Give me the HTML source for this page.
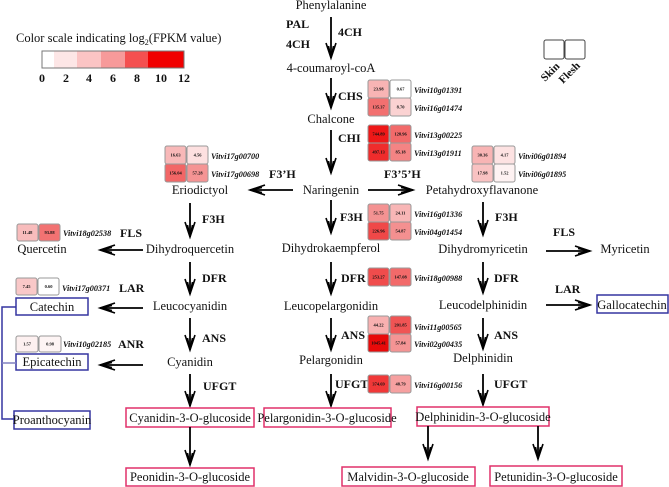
<!DOCTYPE html>
<html><head><meta charset="utf-8">
<style>
html,body{margin:0;padding:0;background:#fff;}
svg{display:block;}
text{font-family:"Liberation Serif",serif;fill:#111;}
.n{font-size:12.5px;text-anchor:middle;}
.e{font-size:12px;font-weight:bold;}
.g{font-size:8.2px;font-style:italic;font-weight:bold;}
.v{font-size:4.5px;text-anchor:middle;font-weight:bold;}
.c{stroke:#999;stroke-width:1;}
.a{stroke:#000;stroke-width:1.8;fill:none;}
.pb{fill:#fff;stroke:#e0306a;stroke-width:1.5;}
.bb{fill:#fff;stroke:#3535a0;stroke-width:1.5;}
</style></head><body>
<svg width="669" height="487" viewBox="0 0 669 487" xmlns="http://www.w3.org/2000/svg">
<defs>
<g id="hd"><path d="M-5,-15 L0,0 L5,-15 M-2.5,-12 L0,0 L2.5,-12" stroke="#000" stroke-width="1.6" fill="none"/></g>
</defs>

<!-- Legend -->
<text x="16" y="42" style="font-size:12.5px">Color scale indicating log<tspan dy="3" font-size="8">2</tspan><tspan dy="-3">(FPKM value)</tspan></text>
<rect x="42" y="51" width="12" height="17" fill="#fff"/>
<rect x="54" y="51" width="23" height="17" fill="#fde6e6"/>
<rect x="77" y="51" width="24" height="17" fill="#fbc4c4"/>
<rect x="101" y="51" width="24" height="17" fill="#f79a9a"/>
<rect x="125" y="51" width="23" height="17" fill="#f45050"/>
<rect x="148" y="51" width="36" height="17" fill="#f00000"/>
<rect x="42" y="51" width="142" height="17" fill="none" stroke="#777"/>
<g style="font-size:12px;font-weight:bold;text-anchor:middle">
<text x="42" y="82">0</text><text x="66" y="82">2</text><text x="89" y="82">4</text><text x="113" y="82">6</text><text x="137" y="82">8</text><text x="161" y="82">10</text><text x="184" y="82">12</text></g>

<!-- Skin/Flesh -->
<rect x="544" y="40" width="20" height="19" rx="2" fill="#fff" stroke="#444"/>
<rect x="565" y="40" width="20" height="19" rx="2" fill="#fff" stroke="#444"/>
<text transform="translate(545,82) rotate(-45)" style="font-size:11px;font-weight:bold">Skin</text>
<text transform="translate(563,84) rotate(-45)" style="font-size:11px;font-weight:bold">Flesh</text>

<!-- Main column -->
<text class="n" x="331" y="9">Phenylalanine</text>
<line class="a" x1="331" y1="17" x2="331" y2="58"/><use href="#hd" x="331" y="58"/>
<text class="e" x="286" y="28">PAL</text><text class="e" x="286" y="48">4CH</text><text class="e" x="338" y="36">4CH</text>
<text class="n" x="331" y="72">4-coumaroyl-coA</text>
<line class="a" x1="331" y1="78" x2="331" y2="108"/><use href="#hd" x="331" y="108"/>
<text class="e" x="338" y="100">CHS</text>
<text class="n" x="331" y="123">Chalcone</text>
<line class="a" x1="331" y1="130" x2="331" y2="173"/><use href="#hd" x="331" y="173"/>
<text class="e" x="338" y="142">CHI</text>
<text class="n" x="331" y="194">Naringenin</text>

<!-- CHS heatmap -->
<rect class="c" x="368" y="80" width="21" height="18" rx="2" fill="#f8b4b4"/><text class="v" x="378.5" y="90.5">23.98</text>
<rect class="c" x="390" y="80" width="21" height="18" rx="2" fill="#fff"/><text class="v" x="400.5" y="90.5">0.67</text>
<rect class="c" x="368" y="98" width="21" height="18" rx="2" fill="#f27070"/><text class="v" x="378.5" y="108.5">135.37</text>
<rect class="c" x="390" y="98" width="21" height="18" rx="2" fill="#fbd2d2"/><text class="v" x="400.5" y="108.5">8.70</text>
<text class="g" x="414" y="93">Vitvi10g01391</text><text class="g" x="414" y="111">Vitvi16g01474</text>
<!-- CHI heatmap -->
<rect class="c" x="368" y="125" width="21" height="18" rx="2" fill="#ee1818"/><text class="v" x="378.5" y="135.5">744.89</text>
<rect class="c" x="390" y="125" width="21" height="18" rx="2" fill="#f26a6a"/><text class="v" x="400.5" y="135.5">128.96</text>
<rect class="c" x="368" y="143" width="21" height="18" rx="2" fill="#ef2c2c"/><text class="v" x="378.5" y="153.5">497.13</text>
<rect class="c" x="390" y="143" width="21" height="18" rx="2" fill="#f48484"/><text class="v" x="400.5" y="153.5">85.18</text>
<text class="g" x="414" y="138">Vitvi13g00225</text><text class="g" x="414" y="156">Vitvi13g01911</text>

<!-- Eriodictyol branch -->
<line class="a" x1="293" y1="190" x2="250" y2="190"/><use href="#hd" transform="translate(250,190) rotate(90)"/>
<text class="e" x="269" y="178">F3’H</text>
<text class="n" x="200" y="194">Eriodictyol</text>
<rect class="c" x="165" y="146" width="21" height="18" rx="2" fill="#f8b8b8"/><text class="v" x="175.5" y="156.5">16.63</text>
<rect class="c" x="187" y="146" width="21" height="18" rx="2" fill="#fde0e0"/><text class="v" x="197.5" y="156.5">4.56</text>
<rect class="c" x="165" y="164" width="21" height="18" rx="2" fill="#f26666"/><text class="v" x="175.5" y="174.5">156.04</text>
<rect class="c" x="187" y="164" width="21" height="18" rx="2" fill="#f59494"/><text class="v" x="197.5" y="174.5">57.28</text>
<text class="g" x="211" y="159">Vitvi17g00700</text><text class="g" x="211" y="177">Vitvi17g00698</text>

<!-- Petahydroxyflavanone branch -->
<line class="a" x1="368" y1="190" x2="413" y2="190"/><use href="#hd" transform="translate(413,190) rotate(-90)"/>
<text class="e" x="384" y="178">F3’5’H</text>
<text class="n" x="482" y="194">Petahydroxyflavanone</text>
<rect class="c" x="472" y="146" width="21" height="18" rx="2" fill="#f8b4b4"/><text class="v" x="482.5" y="156.5">30.36</text>
<rect class="c" x="494" y="146" width="21" height="18" rx="2" fill="#fde2e2"/><text class="v" x="504.5" y="156.5">4.17</text>
<rect class="c" x="472" y="164" width="21" height="18" rx="2" fill="#f9c2c2"/><text class="v" x="482.5" y="174.5">17.98</text>
<rect class="c" x="494" y="164" width="21" height="18" rx="2" fill="#fef2f2"/><text class="v" x="504.5" y="174.5">1.52</text>
<text class="g" x="518" y="159">Vitvi06g01894</text><text class="g" x="518" y="177">Vitvi06g01895</text>

<!-- F3H row -->
<line class="a" x1="331" y1="200" x2="331" y2="233"/><use href="#hd" x="331" y="233"/>
<text class="e" x="340" y="221">F3H</text>
<rect class="c" x="368" y="204" width="21" height="18" rx="2" fill="#f49292"/><text class="v" x="378.5" y="214.5">51.75</text>
<rect class="c" x="390" y="204" width="21" height="18" rx="2" fill="#f8b6b6"/><text class="v" x="400.5" y="214.5">24.11</text>
<rect class="c" x="368" y="222" width="21" height="18" rx="2" fill="#f04848"/><text class="v" x="378.5" y="232.5">226.96</text>
<rect class="c" x="390" y="222" width="21" height="18" rx="2" fill="#f49090"/><text class="v" x="400.5" y="232.5">54.87</text>
<text class="g" x="414" y="217">Vitvi16g01336</text><text class="g" x="414" y="235">Vitvi04g01454</text>
<text class="n" x="331" y="252">Dihydrokaempferol</text>

<line class="a" x1="190" y1="203" x2="190" y2="237"/><use href="#hd" x="190" y="237"/>
<text class="e" x="202" y="223">F3H</text>
<text class="n" x="190" y="253">Dihydroquercetin</text>
<line class="a" x1="143" y1="250" x2="100" y2="250"/><use href="#hd" transform="translate(100,250) rotate(90)"/>
<text class="n" x="42" y="253">Quercetin</text>
<rect class="c" x="17" y="224" width="21" height="17" rx="2" fill="#f8bcbc"/><text class="v" x="27.5" y="234">11.48</text>
<rect class="c" x="39" y="224" width="21" height="17" rx="2" fill="#f27272"/><text class="v" x="49.5" y="234">93.88</text>
<text class="g" x="63" y="236">Vitvi18g02538</text><text class="e" x="120" y="237">FLS</text>

<line class="a" x1="483" y1="202" x2="483" y2="235"/><use href="#hd" x="483" y="235"/>
<text class="e" x="495" y="221">F3H</text>
<text class="n" x="483" y="253">Dihydromyricetin</text>
<line class="a" x1="546" y1="251" x2="590" y2="251"/><use href="#hd" transform="translate(590,251) rotate(-90)"/>
<text class="e" x="553" y="236">FLS</text>
<text class="n" x="625" y="253">Myricetin</text>

<!-- DFR row -->
<line class="a" x1="190" y1="262" x2="190" y2="294"/><use href="#hd" x="190" y="294"/>
<text class="e" x="202" y="282">DFR</text>
<line class="a" x1="331" y1="262" x2="331" y2="294"/><use href="#hd" x="331" y="294"/>
<text class="e" x="341" y="282">DFR</text>
<rect class="c" x="368" y="268" width="21" height="18" rx="2" fill="#f04c4c"/><text class="v" x="378.5" y="278.5">253.27</text>
<rect class="c" x="390" y="268" width="21" height="18" rx="2" fill="#f26a6a"/><text class="v" x="400.5" y="278.5">147.08</text>
<text class="g" x="414" y="281">Vitvi18g00988</text>
<line class="a" x1="483" y1="262" x2="483" y2="293"/><use href="#hd" x="483" y="293"/>
<text class="e" x="494" y="282">DFR</text>

<text class="n" x="190" y="310">Leucocyanidin</text>
<text class="n" x="331" y="310">Leucopelargonidin</text>
<text class="n" x="483" y="309">Leucodelphinidin</text>

<rect class="c" x="16" y="278" width="21" height="17" rx="2" fill="#f9c8c8"/><text class="v" x="26.5" y="288">7.45</text>
<rect class="c" x="38" y="278" width="21" height="17" rx="2" fill="#fff"/><text class="v" x="48.5" y="288">0.60</text>
<text class="g" x="62" y="291">Vitvi17g00371</text><text class="e" x="119" y="292">LAR</text>
<line class="a" x1="143" y1="308" x2="100" y2="308"/><use href="#hd" transform="translate(100,308) rotate(90)"/>
<rect class="bb" x="16" y="298" width="72" height="17"/><text class="n" x="52" y="311">Catechin</text>

<text class="e" x="555" y="293">LAR</text>
<line class="a" x1="546" y1="305" x2="590" y2="305"/><use href="#hd" transform="translate(590,305) rotate(-90)"/>
<rect class="bb" x="597" y="295" width="71" height="18"/><text class="n" x="632" y="309">Gallocatechin</text>

<!-- ANS row -->
<line class="a" x1="190" y1="318" x2="190" y2="350"/><use href="#hd" x="190" y="350"/>
<text class="e" x="202" y="342">ANS</text>
<line class="a" x1="331" y1="318" x2="331" y2="350"/><use href="#hd" x="331" y="350"/>
<text class="e" x="341" y="339">ANS</text>
<rect class="c" x="368" y="316" width="21" height="18" rx="2" fill="#f8b0b0"/><text class="v" x="378.5" y="326.5">44.22</text>
<rect class="c" x="390" y="316" width="21" height="18" rx="2" fill="#f05454"/><text class="v" x="400.5" y="326.5">201.85</text>
<rect class="c" x="368" y="334" width="21" height="18" rx="2" fill="#e80a0a"/><text class="v" x="378.5" y="344.5">1045.41</text>
<rect class="c" x="390" y="334" width="21" height="18" rx="2" fill="#f49494"/><text class="v" x="400.5" y="344.5">57.84</text>
<text class="g" x="414" y="330">Vitvi11g00565</text><text class="g" x="414" y="347">Vitvi02g00435</text>
<line class="a" x1="483" y1="318" x2="483" y2="349"/><use href="#hd" x="483" y="349"/>
<text class="e" x="494" y="339">ANS</text>

<text class="n" x="190" y="366">Cyanidin</text>
<text class="n" x="331" y="364">Pelargonidin</text>
<text class="n" x="483" y="362">Delphinidin</text>

<rect class="c" x="16" y="336" width="22" height="16" rx="2" fill="#fdf0f0"/><text class="v" x="27" y="345.5">1.57</text>
<rect class="c" x="39" y="336" width="22" height="16" rx="2" fill="#fdf4f4"/><text class="v" x="50" y="345.5">0.98</text>
<text class="g" x="63" y="347">Vitvi10g02185</text><text class="e" x="118" y="348">ANR</text>
<line class="a" x1="143" y1="365" x2="100" y2="365"/><use href="#hd" transform="translate(100,365) rotate(90)"/>
<rect class="bb" x="16" y="354" width="72" height="16"/><text class="n" x="52" y="366">Epicatechin</text>

<!-- UFGT row -->
<line class="a" x1="190" y1="374" x2="190" y2="406"/><use href="#hd" x="190" y="406"/>
<text class="e" x="203" y="390">UFGT</text>
<line class="a" x1="331" y1="374" x2="331" y2="406"/><use href="#hd" x="331" y="406"/>
<text class="e" x="335" y="388">UFGT</text>
<rect class="c" x="368" y="375" width="21" height="18" rx="2" fill="#f03838"/><text class="v" x="378.5" y="385.5">374.69</text>
<rect class="c" x="390" y="375" width="21" height="18" rx="2" fill="#f6a0a0"/><text class="v" x="400.5" y="385.5">48.79</text>
<text class="g" x="414" y="388">Vitvi16g00156</text>
<line class="a" x1="483" y1="374" x2="483" y2="405"/><use href="#hd" x="483" y="405"/>
<text class="e" x="494" y="388">UFGT</text>

<!-- products -->
<rect class="pb" x="126" y="408" width="128" height="19"/><text class="n" x="190" y="422">Cyanidin-3-O-glucoside</text>
<rect class="pb" x="264" y="408" width="127" height="19"/><text class="n" x="327" y="422">Pelargonidin-3-O-glucoside</text>
<rect class="pb" x="417" y="407" width="132" height="19"/><text class="n" x="483" y="421">Delphinidin-3-O-glucoside</text>
<rect class="bb" x="14" y="411" width="76" height="18"/><text class="n" x="52" y="424">Proanthocyanin</text>

<path d="M16,307 H2 V419 H14" stroke="#3535a0" stroke-width="1.5" fill="none"/>
<line x1="2" y1="363" x2="16" y2="363" stroke="#8080c0" stroke-width="1.5"/>

<line class="a" x1="190" y1="427" x2="190" y2="465"/><use href="#hd" x="190" y="465"/>
<rect class="pb" x="126" y="468" width="128" height="18"/><text class="n" x="190" y="481">Peonidin-3-O-glucoside</text>
<line class="a" x1="428" y1="426" x2="428" y2="459"/><use href="#hd" x="428" y="459"/>
<rect class="pb" x="342" y="467" width="133" height="19"/><text class="n" x="408" y="481">Malvidin-3-O-glucoside</text>
<line class="a" x1="538" y1="426" x2="538" y2="459"/><use href="#hd" x="538" y="459"/>
<rect class="pb" x="490" y="466" width="132" height="20"/><text class="n" x="556" y="481">Petunidin-3-O-glucoside</text>
</svg>
</body></html>
